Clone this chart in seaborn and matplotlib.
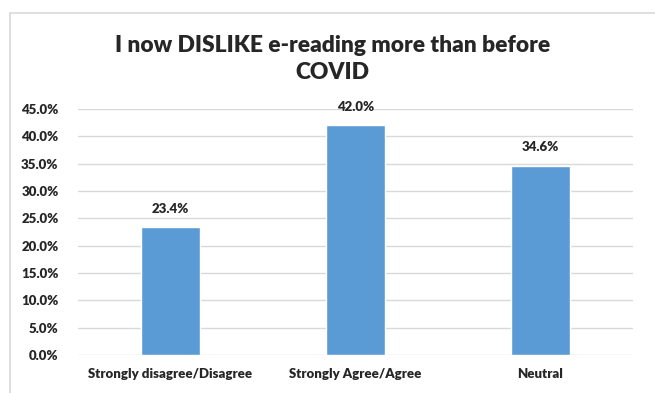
import matplotlib
matplotlib.use("Agg")
import matplotlib.pyplot as plt
import seaborn as sns
import pandas as pd
from matplotlib.patches import Rectangle
from matplotlib.ticker import FuncFormatter

categories = ["Strongly disagree/Disagree", "Strongly Agree/Agree", "Neutral"]
values = [23.4, 42.0, 34.6]
yticks = [0, 5, 10, 15, 20, 25, 30, 35, 40, 45]
title = "I now DISLIKE e-reading more than before\nCOVID"

sns.set_theme(style="white")
plt.rcParams['font.family'] = ['Lato', 'DejaVu Sans']

df = pd.DataFrame({"cat": categories, "val": values})

fig = plt.figure(figsize=(6.55, 3.93), dpi=100)
fig.patch.set_facecolor("white")
fig.patches.append(Rectangle((10/655, -0.1), 1.0, 1 - 13/393 + 0.1, transform=fig.transFigure,
                             fill=False, edgecolor="#d9d9d9", linewidth=1.2))
ax = fig.add_axes([78/655, 1 - 355/393, (633 - 78)/655, (355 - 109)/393])
sns.barplot(data=df, x="cat", y="val", color="#5B9BD5", saturation=1, width=0.315, ax=ax, zorder=3)
ax.set_ylim(0, 45)
ax.set_yticks(yticks)
ax.yaxis.set_major_formatter(FuncFormatter(lambda v, p: f"{v:.1f}%"))
ax.grid(axis="y", color="#d9d9d9", linewidth=1, zorder=0)
for s in ax.spines.values():
    s.set_visible(False)
ax.set_xlabel("")
ax.set_ylabel("")
ax.tick_params(axis="both", length=0, labelsize=9.5, colors="#262626")
ax.tick_params(axis="y", pad=14)
ax.tick_params(axis="x", pad=9)
for lab in ax.get_xticklabels() + ax.get_yticklabels():
    lab.set_fontweight("heavy")
for i, v in enumerate(values):
    ax.annotate(f"{v:.1f}%", (i, v), xytext=(0, 9), textcoords="offset points",
                ha="center", va="bottom", fontsize=9.5, fontweight="heavy", color="#262626")
fig.text(0.508, 1 - 59/393, title, ha="center", va="center", fontsize=16.4,
         fontweight="heavy", color="#262626", linespacing=1.3)
fig.savefig("out.png", dpi=100)
